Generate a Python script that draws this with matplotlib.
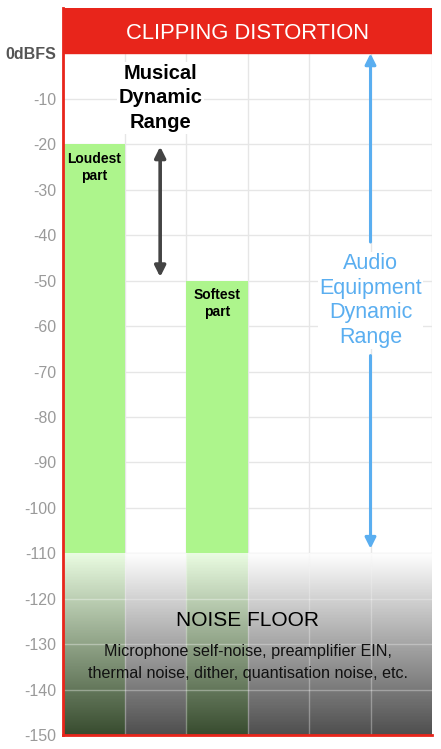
import numpy as np
import matplotlib.pyplot as plt
from matplotlib.colors import LinearSegmentedColormap

plt.rcParams['font.family'] = ['Liberation Sans', 'DejaVu Sans']

# levels in dBFS
part_labels = ['Loudest\npart', 'Softest\npart']
part_columns = [0, 2]
part_levels = [-20, -50]
floor_level = -150
noise_level = -110
clip_level = 0
tick_values = [0, -10, -20, -30, -40, -50, -60, -70, -80, -90, -100, -110, -120, -130, -140, -150]
tick_labels = ['0dBFS'] + [str(v) for v in tick_values[1:]]
n_columns = 6

red = '#e8251b'
green = '#adf58c'
blue = '#5aaef0'

fig = plt.figure(figsize=(4.41, 7.49), dpi=100)
ax = fig.add_axes([63 / 441, 1 - 735 / 749, (432 - 63) / 441, (735 - 8) / 749])
ax.set_xlim(0, n_columns)
ax.set_ylim(floor_level, 10)

# grid
for v in tick_values[1:-1]:
    ax.axhline(v, color='#e6e6e6', lw=1, zorder=0)
for c in range(1, n_columns + 1):
    ax.axvline(c, color='#e6e6e6', lw=1, zorder=0)

# bars
for col, lev, lab in zip(part_columns, part_levels, part_labels):
    ax.bar(col + 0.5, lev - floor_level, bottom=floor_level, width=1.0,
           color=green, zorder=1)
    ax.text(col + 0.5, lev - 1.6, lab, ha='center', va='top', fontsize=10,
            fontweight='bold', linespacing=1.3, zorder=5)

# noise floor gradient
grad = np.linspace(0, 1, 256).reshape(-1, 1)
cmap = LinearSegmentedColormap.from_list('nf', [(1, 1, 1, 0.75), (0.05, 0.05, 0.05, 0.73)])
ax.imshow(grad, extent=[0, n_columns, floor_level, noise_level], aspect='auto',
          cmap=cmap, origin='upper', zorder=2)
for v in [-120, -130, -140]:
    ax.plot([0, n_columns], [v, v], color='white', alpha=0.35, lw=1, zorder=3)
for c in range(1, n_columns):
    ax.plot([c, c], [floor_level, noise_level], color='white', alpha=0.35, lw=1, zorder=3)

ax.text(n_columns / 2, -124.8, 'NOISE FLOOR', ha='center', va='center', fontsize=15, zorder=5)
ax.text(n_columns / 2, -134.0, 'Microphone self-noise, preamplifier EIN,\nthermal noise, dither, quantisation noise, etc.',
        ha='center', va='center', fontsize=11.6, linespacing=1.55, color='#111111', zorder=5)

# clipping band
ax.axhspan(clip_level, 10, color=red, zorder=4)
ax.text(n_columns / 2, 4.4, 'CLIPPING DISTORTION', ha='center', va='center',
        color='white', fontsize=15.8, zorder=5)

# musical dynamic range
ax.text(1.58, -9.8, 'Musical\nDynamic\nRange', ha='center', va='center', fontsize=14.5,
        fontweight='bold', linespacing=1.38, zorder=5,
        bbox=dict(facecolor='white', edgecolor='none', pad=1))
ax.annotate('', xy=(1.58, part_levels[0] - 0.5), xytext=(1.58, part_levels[1] + 0.8),
            arrowprops=dict(arrowstyle='<|-|>', color='#444444', lw=2.6,
                            mutation_scale=16, shrinkA=0, shrinkB=0), zorder=5)

# audio equipment dynamic range
ax.annotate('', xy=(5, clip_level), xytext=(5, -41.5),
            arrowprops=dict(arrowstyle='-|>', color=blue, lw=2.2,
                            mutation_scale=16, shrinkA=0, shrinkB=0), zorder=5)
ax.annotate('', xy=(5, noise_level + 1), xytext=(5, -66.5),
            arrowprops=dict(arrowstyle='-|>', color=blue, lw=2.2,
                            mutation_scale=16, shrinkA=0, shrinkB=0), zorder=5)
ax.text(5, -54.4, 'Audio\nEquipment\nDynamic\nRange', ha='center', va='center', fontsize=15.5,
        color=blue, linespacing=1.22, zorder=5,
        bbox=dict(facecolor='white', edgecolor='none', pad=1))

# axes styling
ax.set_xticks([])
ax.set_yticks(tick_values)
ax.set_yticklabels(tick_labels, fontsize=11.5, color='#9a9a9a')
ax.get_yticklabels()[0].set_fontweight('bold')
ax.get_yticklabels()[0].set_color('#555555')
ax.tick_params(axis='y', length=0, pad=5)
for s in ['top', 'right']:
    ax.spines[s].set_visible(False)
ax.spines['left'].set_color(red)
ax.spines['bottom'].set_color(red)
ax.spines['left'].set_linewidth(2)
ax.spines['bottom'].set_linewidth(2)
ax.spines['left'].set_zorder(6)
ax.spines['bottom'].set_zorder(6)

plt.savefig('out.png', dpi=100)
